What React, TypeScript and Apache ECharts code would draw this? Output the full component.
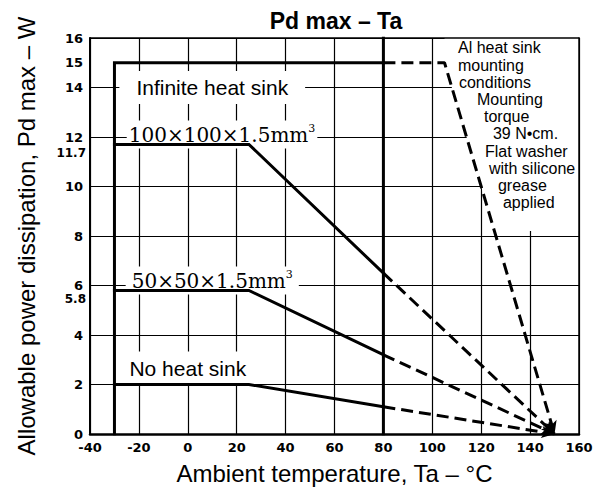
import React, { useEffect, useRef } from 'react';
import * as echarts from 'echarts';

// ---- data ----
const xMin = -40;
const xMax = 160;
const yMin = 0;
const yMax = 16;
const yMainLabels = [0, 2, 4, 6, 8, 10, 12, 14, 15, 16];
const yExtraLabels = [5.8, 11.7];

const infiniteSolid = [[-30, 0], [-30, 15], [80, 15]];
const infiniteDashed = [[80, 15], [105, 15], [150, 0]];
const sink100Solid = [[-30, 11.7], [25, 11.7], [80, 6.5]];
const sink100Dashed = [[80, 6.5], [150, 0]];
const sink50Solid = [[-30, 5.8], [25, 5.8], [80, 3.2]];
const sink50Dashed = [[80, 3.2], [150, 0]];
const noSinkSolid = [[-30, 2], [25, 2], [80, 1.1]];
const noSinkDashed = [[80, 1.1], [150, 0]];
const limit80 = [[80, 0], [80, 16]];
const noteArea = [[105, 16], [105, 15], [125.4, 8.2], [160, 8.2], [160, 16]];

const curveLabels = [
  { text: 'Infinite heat sink', at: [10, 14], kind: 'sans', pad: [6, 17] },
  { text: '100×100×1.5mm', sup: '3', at: [14, 12.1], kind: 'serif', pad: [2, 2] },
  { text: '50×50×1.5mm', sup: '3', at: [10, 6.2], kind: 'serif', pad: [2, 6] },
  { text: 'No heat sink', at: [0, 2.65], kind: 'sans', pad: [5, 4, 8, 4] },
];

const noteLines = [
  'Al heat sink',
  'mounting',
  'conditions',
  'Mounting',
  'torque',
  '39 N•cm.',
  'Flat washer',
  'with silicone',
  'grease',
  'applied',
];
const noteIndent = [0, 0, 1, 19, 26, 35, 27, 31, 40, 45];
const noteAnchor = [110.5, 15.6];

const SANS = 'Liberation Sans, Arial, sans-serif';
const TICKFONT = 'DejaVu Sans, sans-serif';

export default function App() {
  const ref = useRef<HTMLDivElement>(null);
  useEffect(() => {
    document.body.style.margin = '0';
    const chart = echarts.init(ref.current!, null, { renderer: 'svg' });
    const solid = (data: number[][], w = 3) => ({
      type: 'line',
      data,
      showSymbol: false,
      symbol: 'none',
      z: 3,
      silent: true,
      lineStyle: { color: '#000', width: w, cap: 'square', join: 'miter' },
    });
    const dashed = (data: any[]) => ({
      type: 'line',
      data,
      showSymbol: true,
      symbol: 'none',
      z: 3,
      silent: true,
      itemStyle: { color: '#000' },
      lineStyle: { color: '#000', width: 3, type: [12, 6] },
    });
    const valueAxisBase = { type: 'value', min: xMin, max: xMax, interval: 20 };
    const yBase = { type: 'value', min: yMin, max: yMax, interval: 2 };
    const dashedSets = [infiniteDashed, sink100Dashed, sink50Dashed, noSinkDashed];
    const buildSeries = (dashedData: any[][]) => [
      {
        type: 'custom',
        z: 1,
        silent: true,
        data: [[0, 0]],
        renderItem: (_p: any, api: any) => ({
          type: 'polygon',
          shape: { points: noteArea.map((p) => api.coord(p)) },
          style: { fill: '#fff' },
        }),
      },
      solid(infiniteSolid),
      dashed(dashedData[0]),
      solid(sink100Solid),
      dashed(dashedData[1]),
      solid(sink50Solid),
      dashed(dashedData[2]),
      solid(noSinkSolid),
      dashed(dashedData[3]),
      solid(limit80, 3),
    ];
    const option: any = {
      animation: false,
      backgroundColor: '#fff',
      title: {
        text: 'Pd max – Ta',
        left: 331,
        textAlign: 'center',
        top: 4,
        textStyle: { fontFamily: SANS, fontSize: 23, fontWeight: 'bold', color: '#000' },
      },
      grid: { left: 90, right: 19, top: 38, bottom: 54 },
      xAxis: [
        {
          ...valueAxisBase,
          position: 'bottom',
          z: 10,
          axisLine: { show: true, onZero: false, lineStyle: { color: '#000', width: 2.5 } },
          axisTick: { show: false },
          splitLine: { show: false },
          axisLabel: { fontFamily: TICKFONT, fontWeight: 'bold', fontSize: 13, color: '#000', margin: 7 },
          name: 'Ambient temperature, Ta – °C',
          nameLocation: 'middle',
          nameGap: 27,
          nameTextStyle: { fontFamily: SANS, fontSize: 24, color: '#000' },
        },
        {
          ...valueAxisBase,
          position: 'top',
          z: 10,
          axisLine: { show: true, onZero: false, lineStyle: { color: '#000', width: 1.5 } },
          axisTick: { show: false },
          axisLabel: { show: false },
          splitLine: { show: false },
        },
        {
          ...valueAxisBase,
          position: 'bottom',
          z: 0,
          axisLine: { show: false },
          axisTick: { show: false },
          axisLabel: { show: false },
          splitLine: { show: true, lineStyle: { color: '#000', width: 1.2 } },
        },
      ],
      yAxis: [
        {
          ...yBase,
          position: 'left',
          z: 10,
          axisLine: { show: true, onZero: false, lineStyle: { color: '#000', width: 2 } },
          axisTick: { show: false },
          splitLine: { show: false },
          axisLabel: {
            customValues: yMainLabels,
            fontFamily: TICKFONT,
            fontWeight: 'bold',
            fontSize: 13,
            color: '#000',
            margin: 7,
          },
          name: 'Allowable power dissipation, Pd max – W',
          nameLocation: 'middle',
          nameGap: 52,
          nameTextStyle: { fontFamily: SANS, fontSize: 24, color: '#000' },
        },
        {
          ...yBase,
          position: 'right',
          z: 10,
          axisLine: { show: true, onZero: false, lineStyle: { color: '#000', width: 1.5 } },
          axisTick: { show: false },
          axisLabel: { show: false },
          splitLine: { show: false },
        },
        {
          ...yBase,
          position: 'left',
          z: 0,
          axisLine: { show: false },
          axisTick: { show: false },
          axisLabel: { show: false },
          splitLine: { show: true, lineStyle: { color: '#000', width: 1.2 } },
        },
        {
          ...yBase,
          position: 'left',
          z: 10,
          axisLine: { show: false },
          axisTick: { show: false },
          splitLine: { show: false },
          axisLabel: {
            customValues: yExtraLabels,
            fontFamily: TICKFONT,
            fontWeight: 'bold',
            fontSize: 12,
            color: '#000',
            margin: 4,
            verticalAlign: 'top',
            padding: [3, 0, 0, 0],
          },
        },
      ],
      series: buildSeries(dashedSets),
    };
    chart.setOption(option);

    const px = (p: number[]) => chart.convertToPixel({ seriesIndex: 1 }, p) as number[];

    // arrowheads at the end of each dashed derating line, oriented along the last segment
    const withArrows = dashedSets.map((set) => {
      const n = set.length;
      const a = px(set[n - 2]);
      const b = px(set[n - 1]);
      const theta = (Math.atan2(-(b[1] - a[1]), b[0] - a[0]) * 180) / Math.PI;
      return set.map((p, i) =>
        i === n - 1
          ? { value: p, symbol: 'arrow', symbolSize: [9, 13], symbolRotate: theta - 90 }
          : { value: p, symbol: 'none' }
      );
    });

    const graphics: any[] = [];
    curveLabels.forEach((l) => {
      const [x, y] = px(l.at);
      const isSerif = l.kind === 'serif';
      graphics.push({
        type: 'text',
        x,
        y,
        z: 2,
        silent: true,
        style: isSerif
          ? {
              text: `{n|${l.text}}{s|${l.sup}}`,
              align: 'center',
              verticalAlign: 'middle',
              backgroundColor: '#fff',
              padding: l.pad,
              rich: {
                n: { fontFamily: 'DejaVu Serif, serif', fontSize: 20, fill: '#000', lineHeight: 24 },
                s: { fontFamily: 'DejaVu Serif, serif', fontSize: 11, fill: '#000', verticalAlign: 'top', lineHeight: 24, padding: [0, 0, 10, 0] },
              },
            }
          : {
              text: l.text,
              fontFamily: SANS,
              fontSize: 21,
              fill: '#000',
              align: 'center',
              verticalAlign: 'middle',
              backgroundColor: '#fff',
              padding: l.pad,
            },
      });
    });
    const [ax, ay] = px(noteAnchor);
    noteLines.forEach((t, i) => {
      graphics.push({
        type: 'text',
        x: ax + noteIndent[i],
        y: ay + i * 17.2,
        z: 4,
        silent: true,
        style: {
          text: t,
          fontFamily: SANS,
          fontSize: 16,
          fill: '#000',
          align: 'left',
          verticalAlign: 'middle',
        },
      });
    });
    chart.setOption({ series: buildSeries(withArrows), graphic: graphics });

    return () => chart.dispose();
  }, []);
  return <div ref={ref} style={{ width: 598, height: 490 }} />;
}
